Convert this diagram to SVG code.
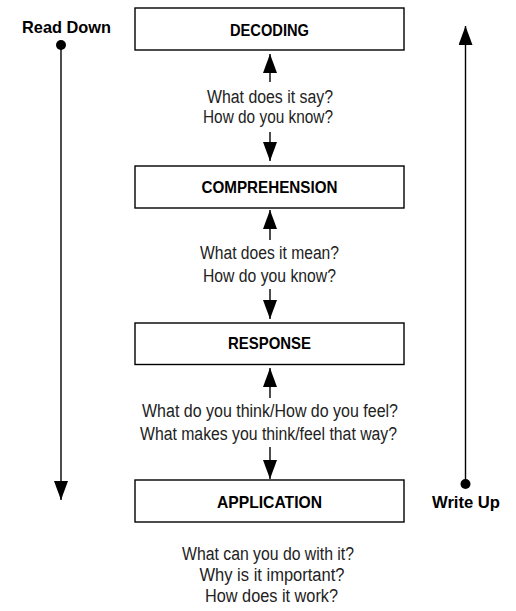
<svg xmlns="http://www.w3.org/2000/svg" width="516" height="611" viewBox="0 0 516 611">
<style>
.box{fill:#fff;stroke:#000;stroke-width:1.4}
.ln{stroke:#000;stroke-width:1.4;fill:none}
.t{font-family:"Liberation Sans",Arial,sans-serif;font-size:18px;fill:#222;text-anchor:middle}
.b{font-family:"Liberation Sans",Arial,sans-serif;font-size:16.5px;font-weight:bold;fill:#000;text-anchor:middle}
.bl{font-family:"Liberation Sans",Arial,sans-serif;font-size:16.5px;font-weight:bold;fill:#000}
</style>
<defs>
<marker id="ah" markerUnits="userSpaceOnUse" markerWidth="19" markerHeight="14" refX="19" refY="7" orient="auto" viewBox="0 0 19 14">
<path d="M0,0 L19,7 L0,14 Z" fill="#000"/>
</marker>
<marker id="dot" markerUnits="userSpaceOnUse" markerWidth="11" markerHeight="11" refX="5.5" refY="5.5" viewBox="0 0 11 11">
<circle cx="5.5" cy="5.5" r="5" fill="#000"/>
</marker>
</defs>
<g id="connectors">
<line class="ln" x1="270" y1="82" x2="270" y2="54" marker-end="url(#ah)"/>
<line class="ln" x1="270" y1="132" x2="270" y2="161" marker-end="url(#ah)"/>
<line class="ln" x1="270" y1="240" x2="270" y2="210" marker-end="url(#ah)"/>
<line class="ln" x1="270" y1="289" x2="270" y2="319" marker-end="url(#ah)"/>
<line class="ln" x1="270" y1="398" x2="270" y2="368" marker-end="url(#ah)"/>
<line class="ln" x1="270" y1="447" x2="270" y2="479" marker-end="url(#ah)"/>
<line class="ln" x1="61" y1="45" x2="61" y2="500" marker-start="url(#dot)" marker-end="url(#ah)"/>
<line class="ln" x1="465.5" y1="484" x2="465.5" y2="26" marker-start="url(#dot)" marker-end="url(#ah)"/>
</g>
<g id="decoding">
<rect class="box" x="135" y="8" width="269" height="42"/>
<text class="b" x="269.5" y="35.5" textLength="79" lengthAdjust="spacingAndGlyphs">DECODING</text>
</g>
<g id="comprehension">
<rect class="box" x="135" y="166" width="269" height="42"/>
<text class="b" x="269.5" y="192.5" textLength="136" lengthAdjust="spacingAndGlyphs">COMPREHENSION</text>
</g>
<g id="response">
<rect class="box" x="135" y="323" width="269" height="41.5"/>
<text class="b" x="269.5" y="349.3" textLength="83" lengthAdjust="spacingAndGlyphs">RESPONSE</text>
</g>
<g id="application">
<rect class="box" x="135" y="480" width="269" height="42"/>
<text class="b" x="269.5" y="508.3" textLength="105" lengthAdjust="spacingAndGlyphs">APPLICATION</text>
</g>
<g id="labels">
<text class="bl" x="22" y="33.3" textLength="89" lengthAdjust="spacingAndGlyphs">Read Down</text>
<text class="bl" x="432" y="508.3" textLength="68" lengthAdjust="spacingAndGlyphs">Write Up</text>
<text class="t" x="270" y="102.7" textLength="126" lengthAdjust="spacingAndGlyphs">What does it say?</text>
<text class="t" x="268" y="123" textLength="130" lengthAdjust="spacingAndGlyphs">How do you know?</text>
<text class="t" x="269.5" y="259" textLength="139" lengthAdjust="spacingAndGlyphs">What does it mean?</text>
<text class="t" x="269.5" y="281.7" textLength="133" lengthAdjust="spacingAndGlyphs">How do you know?</text>
<text class="t" x="270" y="416.7" textLength="256" lengthAdjust="spacingAndGlyphs">What do you think/How do you feel?</text>
<text class="t" x="268.5" y="440" textLength="257" lengthAdjust="spacingAndGlyphs">What makes you think/feel that way?</text>
<text class="t" x="268" y="560" textLength="172" lengthAdjust="spacingAndGlyphs">What can you do with it?</text>
<text class="t" x="272" y="581" textLength="145" lengthAdjust="spacingAndGlyphs">Why is it important?</text>
<text class="t" x="271.5" y="602" textLength="133" lengthAdjust="spacingAndGlyphs">How does it work?</text>
</g>
</svg>
